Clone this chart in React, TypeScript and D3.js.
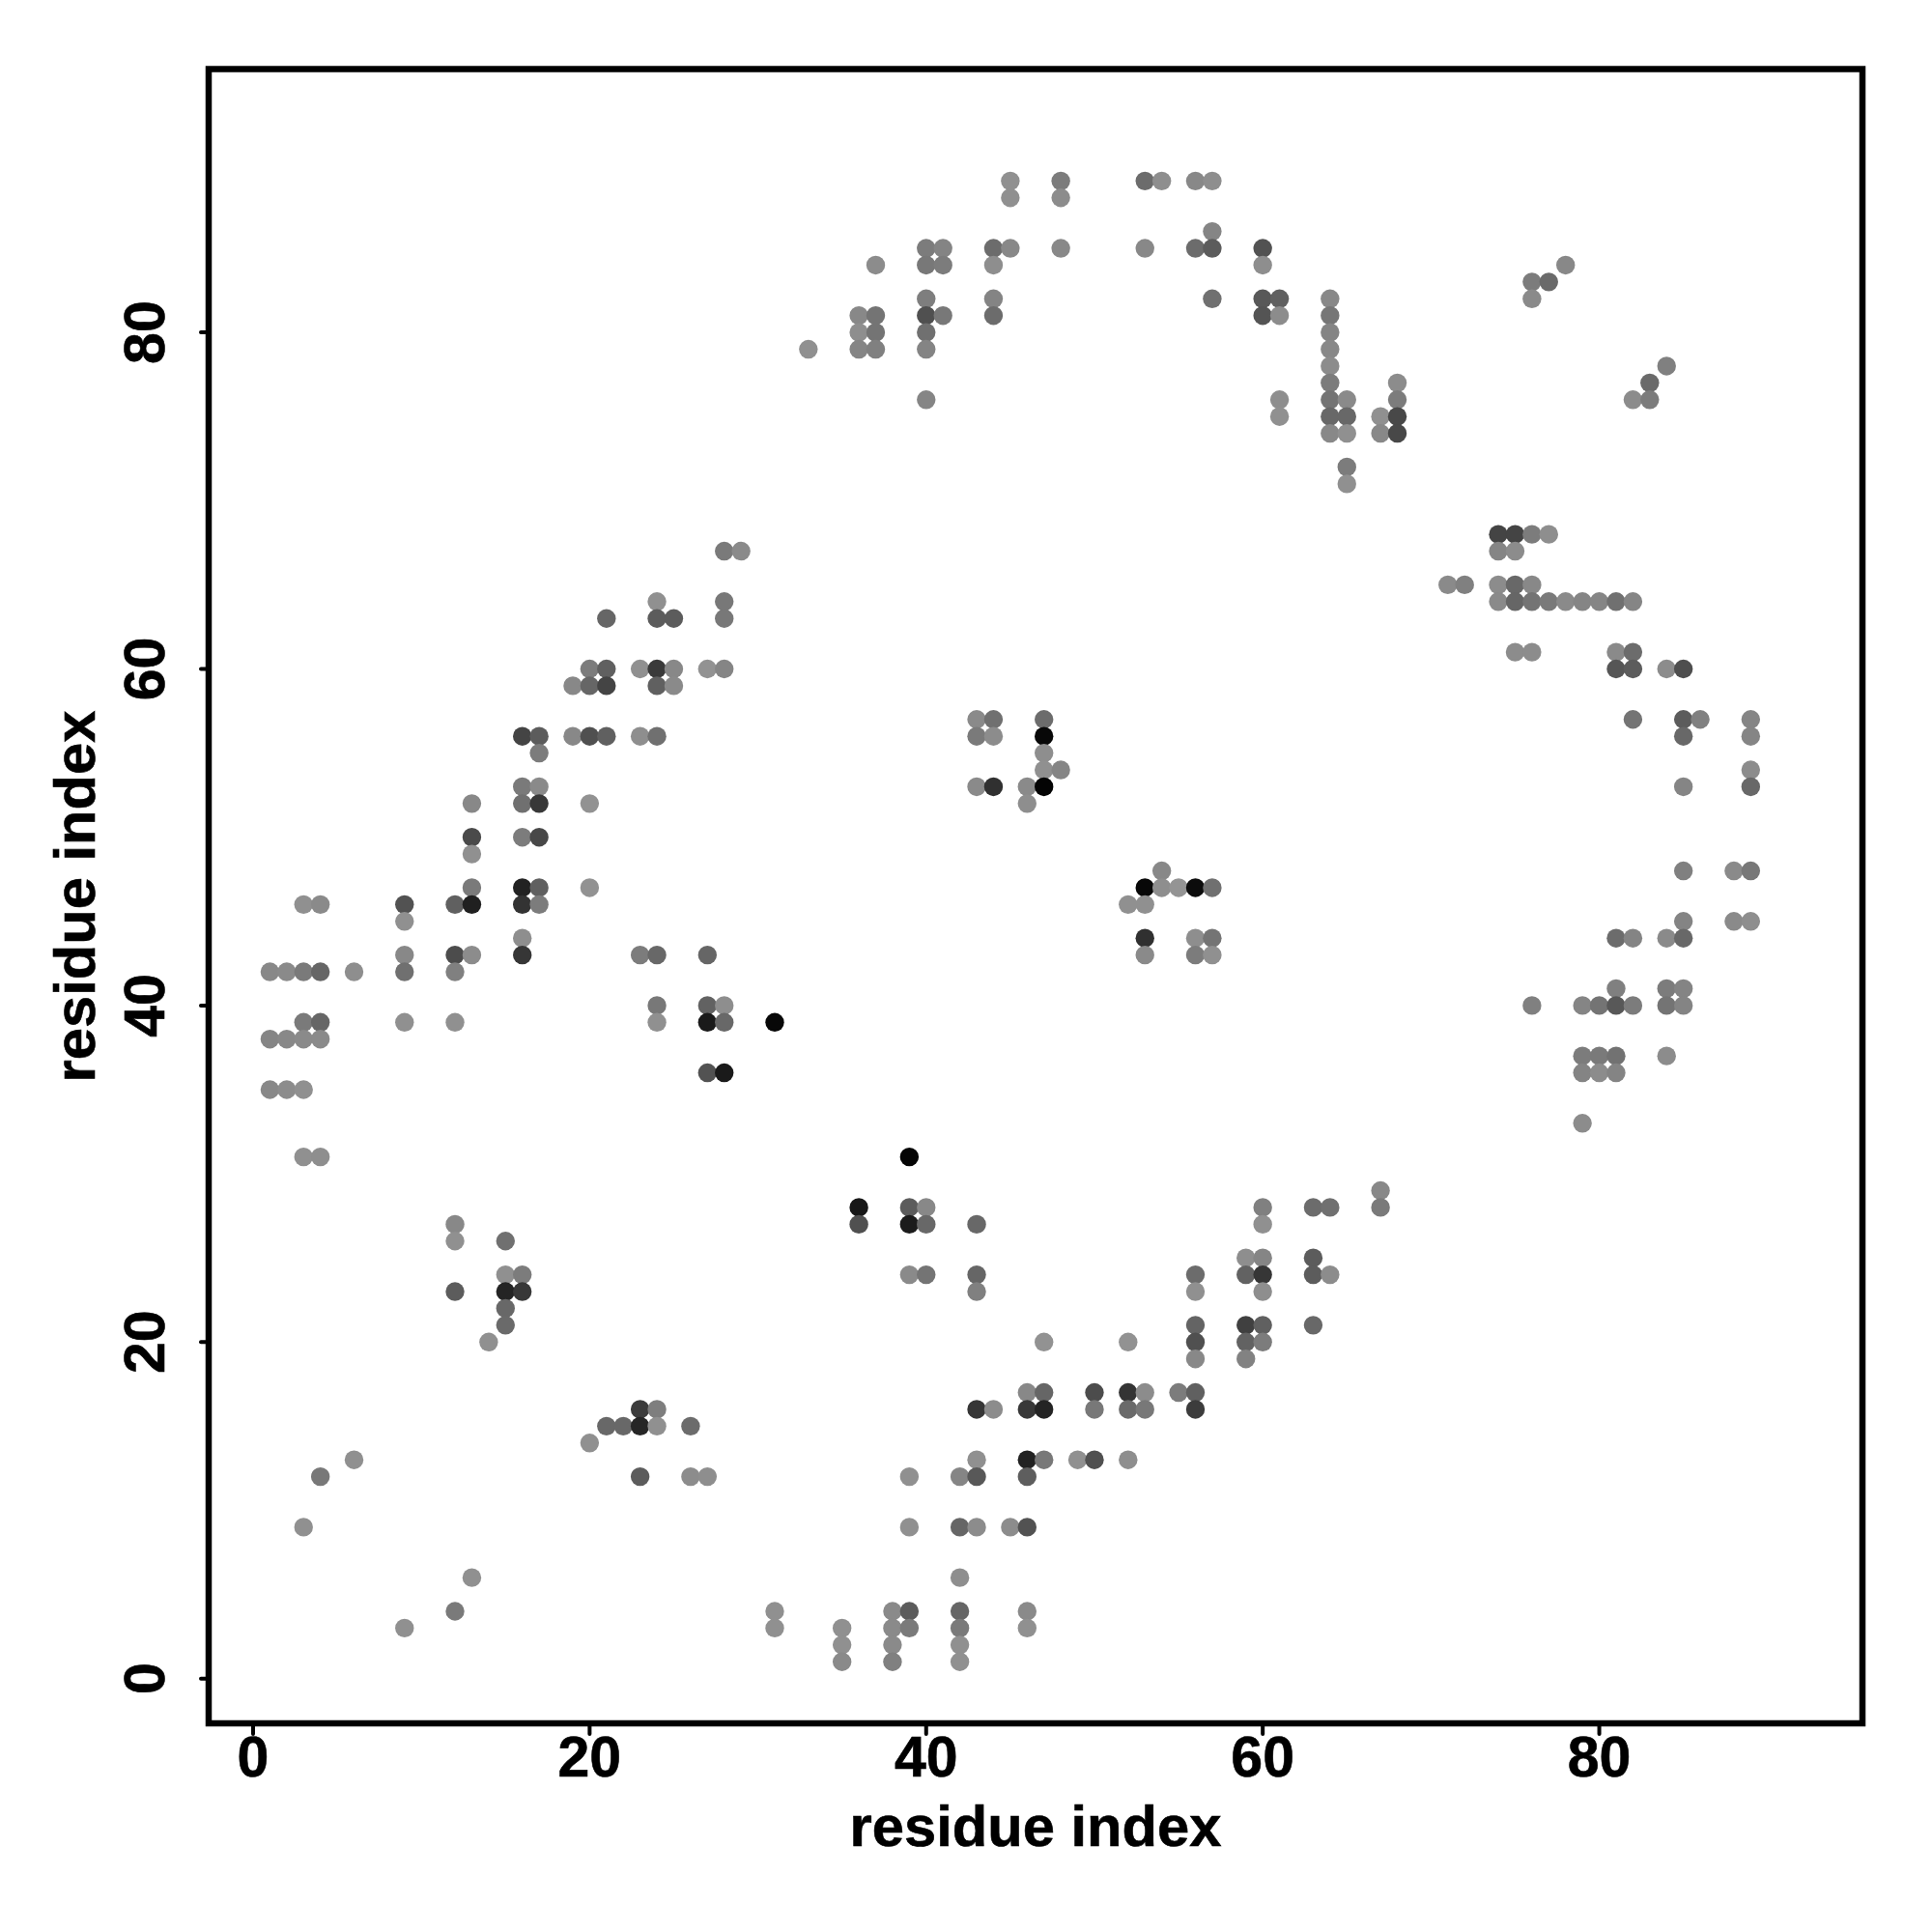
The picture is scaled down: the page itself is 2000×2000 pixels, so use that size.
import React from "react";
import * as d3 from "d3";

type Contact = [number, number, number]; // residue x, residue y, grey level

const tickValues = [0, 20, 40, 60, 80];
const xTitle = "residue index";
const yTitle = "residue index";

const contactsLeft: Contact[] = [
  [28,67,0x7a],[29,67,0x8a],
  [24,64,0x90],[28,64,0x78],
  [21,63,0x66],[24,63,0x5c],[25,63,0x5c],[28,63,0x78],
  [20,60,0x7c],[21,60,0x60],[23,60,0x90],[24,60,0x3a],[25,60,0x88],[27,60,0x92],[28,60,0x85],
  [19,59,0x88],[20,59,0x66],[21,59,0x44],[24,59,0x60],[25,59,0x8a],
  [16,56,0x44],[17,56,0x5c],[19,56,0x88],[20,56,0x50],[21,56,0x60],[23,56,0x8e],[24,56,0x70],
  [17,55,0x7c],
  [16,53,0x7a],[17,53,0x8a],
  [13,52,0x88],[16,52,0x70],[17,52,0x38],[20,52,0x92],
  [13,50,0x4a],[16,50,0x7c],[17,50,0x48],
  [13,49,0x90],
  [13,47,0x7a],[16,47,0x22],[17,47,0x60],[20,47,0x92],
  [3,46,0x90],[4,46,0x8a],[9,46,0x52],[12,46,0x60],[13,46,0x20],[16,46,0x33],[17,46,0x7c],
  [9,45,0x90],
  [16,44,0x8e],
  [9,43,0x88],[12,43,0x4c],[13,43,0x8c],[16,43,0x36],[23,43,0x7c],[24,43,0x68],[27,43,0x66],
  [1,42,0x88],[2,42,0x8a],[3,42,0x7a],[4,42,0x66],[6,42,0x8e],[9,42,0x70],[12,42,0x80],
  [24,40,0x78],[27,40,0x62],[28,40,0x8e],
  [3,39,0x7a],[4,39,0x66],[9,39,0x90],[12,39,0x90],[24,39,0x90],[27,39,0x1a],[28,39,0x68],[31,39,0x08],
  [1,38,0x85],[2,38,0x88],[3,38,0x8a],[4,38,0x8a],
  [27,36,0x52],[28,36,0x1a],
  [1,35,0x88],[2,35,0x8c],[3,35,0x90],
];

const contactsBottomLeft: Contact[] = [
  [3,31,0x90],[4,31,0x8e],
  [12,27,0x88],
  [12,26,0x90],[15,26,0x70],
  [15,24,0x90],[16,24,0x7c],
  [12,23,0x5c],[15,23,0x24],[16,23,0x38],
  [15,22,0x68],
  [15,21,0x6a],
  [14,20,0x90],
  [23,16,0x3c],[24,16,0x7e],
  [21,15,0x68],[22,15,0x68],[23,15,0x26],[24,15,0x90],[26,15,0x6c],
  [20,14,0x90],
  [6,13,0x90],
  [4,12,0x78],[23,12,0x5c],[26,12,0x8c],[27,12,0x8e],
  [3,9,0x90],
  [13,6,0x90],
  [12,4,0x7a],[31,4,0x90],
  [9,3,0x90],[31,3,0x90],
];

const contactsBottom: Contact[] = [
  [39,31,0x05],
  [67,29,0x88],
  [36,28,0x18],[39,28,0x5c],[40,28,0x88],[60,28,0x80],[63,28,0x6c],[64,28,0x70],[67,28,0x7a],
  [36,27,0x50],[39,27,0x1c],[40,27,0x68],[43,27,0x68],[60,27,0x90],
  [59,25,0x8e],[60,25,0x85],[63,25,0x5c],
  [39,24,0x8a],[40,24,0x74],[43,24,0x66],[56,24,0x6c],[59,24,0x62],[60,24,0x36],[63,24,0x5c],[64,24,0x8c],
  [43,23,0x80],[56,23,0x90],[60,23,0x8e],
  [56,21,0x64],[59,21,0x40],[60,21,0x60],[63,21,0x68],
  [47,20,0x92],[52,20,0x92],[56,20,0x50],[59,20,0x62],[60,20,0x7c],
  [56,19,0x88],[59,19,0x82],
  [46,17,0x88],[47,17,0x66],[50,17,0x4c],[52,17,0x34],[53,17,0x8c],[55,17,0x7c],[56,17,0x60],
  [43,16,0x36],[44,16,0x8c],[46,16,0x38],[47,16,0x24],[50,16,0x78],[52,16,0x6a],[53,16,0x78],[56,16,0x3c],
  [43,13,0x90],[46,13,0x22],[47,13,0x78],[49,13,0x90],[50,13,0x50],[52,13,0x8e],
  [39,12,0x90],[42,12,0x85],[43,12,0x58],[46,12,0x5e],
  [39,9,0x90],[42,9,0x66],[43,9,0x8c],[45,9,0x8c],[46,9,0x52],
  [42,6,0x8e],
  [38,4,0x8a],[39,4,0x5c],[42,4,0x66],[46,4,0x8a],
  [35,3,0x90],[38,3,0x8a],[39,3,0x7a],[42,3,0x7a],[46,3,0x90],
  [35,2,0x90],[38,2,0x8a],[42,2,0x90],
  [35,1,0x8a],[38,1,0x80],[42,1,0x90],
];

const contactsTop: Contact[] = [
  [45,89,0x90],[48,89,0x7c],[53,89,0x6c],[54,89,0x8e],[56,89,0x88],[57,89,0x8e],
  [45,88,0x90],[48,88,0x8c],
  [57,86,0x85],
  [40,85,0x7c],[41,85,0x84],[44,85,0x6c],[45,85,0x88],[48,85,0x88],[53,85,0x88],[56,85,0x6c],[57,85,0x5c],[60,85,0x52],
  [37,84,0x8c],[40,84,0x78],[41,84,0x7c],[44,84,0x8e],[60,84,0x8e],
  [40,82,0x7e],[44,82,0x84],[57,82,0x70],[60,82,0x58],[61,82,0x60],[64,82,0x88],
  [36,81,0x88],[37,81,0x74],[40,81,0x50],[41,81,0x78],[44,81,0x6c],[60,81,0x54],[61,81,0x8c],[64,81,0x76],
  [36,80,0x8e],[37,80,0x74],[40,80,0x70],[64,80,0x84],
  [33,79,0x90],[36,79,0x85],[37,79,0x80],[40,79,0x84],[64,79,0x88],
  [64,78,0x8c],
  [64,77,0x7c],[68,77,0x8c],
  [40,76,0x85],[61,76,0x8e],[64,76,0x74],[65,76,0x8a],[68,76,0x7c],
  [61,75,0x90],[64,75,0x68],[65,75,0x68],[67,75,0x90],[68,75,0x48],
  [64,74,0x88],[65,74,0x90],[67,74,0x88],[68,74,0x48],
  [65,72,0x7c],
  [65,71,0x90],
];

const contactsCentre: Contact[] = [
  [43,57,0x8a],[44,57,0x70],[47,57,0x6c],
  [43,56,0x7a],[44,56,0x8c],[47,56,0x08],
  [47,55,0x8e],
  [47,54,0x90],[48,54,0x85],
  [43,53,0x8a],[44,53,0x30],[46,53,0x8a],[47,53,0x04],
  [46,52,0x8e],
  [54,48,0x88],
  [53,47,0x08],[54,47,0x8e],[55,47,0x94],[56,47,0x0c],[57,47,0x70],
  [52,46,0x90],[53,46,0x90],
  [53,44,0x30],[56,44,0x8e],[57,44,0x74],
  [53,43,0x8a],[56,43,0x7c],[57,43,0x90],
];

const contactsRight: Contact[] = [
  [78,84,0x88],
  [76,83,0x7c],[77,83,0x6a],
  [76,82,0x8a],
  [84,78,0x80],
  [83,77,0x6a],
  [82,76,0x8c],[83,76,0x7c],
  [74,68,0x44],[75,68,0x44],[76,68,0x7c],[77,68,0x8e],
  [74,67,0x85],[75,67,0x8c],
  [71,65,0x8a],[72,65,0x80],[74,65,0x8c],[75,65,0x68],[76,65,0x88],
  [74,64,0x8a],[75,64,0x66],[76,64,0x74],[77,64,0x7a],[78,64,0x8a],[79,64,0x85],[80,64,0x85],[81,64,0x70],[82,64,0x85],
  [75,61,0x8c],[76,61,0x8c],[81,61,0x8a],[82,61,0x6c],
  [81,60,0x56],[82,60,0x5c],[84,60,0x8c],[85,60,0x4e],
  [82,57,0x74],[85,57,0x5c],[86,57,0x80],[89,57,0x85],
  [85,56,0x68],[89,56,0x85],
  [89,54,0x8c],
  [85,53,0x85],[89,53,0x68],
  [85,48,0x80],[88,48,0x8a],[89,48,0x78],
  [85,45,0x84],[88,45,0x8a],[89,45,0x8e],
  [81,44,0x6c],[82,44,0x84],[84,44,0x8a],[85,44,0x68],
  [81,41,0x80],[84,41,0x7c],[85,41,0x84],
  [76,40,0x80],[79,40,0x85],[80,40,0x74],[81,40,0x58],[82,40,0x7c],[84,40,0x74],[85,40,0x84],
  [79,37,0x7c],[80,37,0x7a],[81,37,0x72],[84,37,0x8c],
  [79,36,0x84],[80,36,0x8c],[81,36,0x84],
  [79,33,0x8c],
];

const contacts: Contact[] = [
  ...contactsLeft,
  ...contactsBottomLeft,
  ...contactsBottom,
  ...contactsTop,
  ...contactsCentre,
  ...contactsRight,
];

const LEFT = 216;
const RIGHT = 1928;
const TOP = 71.5;
const BOTTOM = 1784;

const x = d3.scaleLinear().domain([-2.64, 95.64]).range([LEFT, RIGHT]);
const y = d3.scaleLinear().domain([-2.66, 95.65]).range([BOTTOM, TOP]);

const FONT = "'Liberation Sans', Arial, sans-serif";

export default function App() {
  return (
    <svg
      width={2000}
      height={2000}
      viewBox="0 0 2000 2000"
      style={{ position: "absolute", left: 0, top: 0, background: "#fff" }}
    >
      <g>
        {contacts.map(([cx, cy, g], i) => (
          <circle key={i} cx={x(cx)} cy={y(cy)} r={9.7} fill={d3.rgb(g, g, g).formatHex()} />
        ))}
      </g>
      <rect x={LEFT} y={TOP} width={RIGHT - LEFT} height={BOTTOM - TOP} fill="none" stroke="#000" strokeWidth={6.5} />
      {tickValues.map((t) => (
        <g key={"x" + t}>
          <line x1={x(t)} x2={x(t)} y1={BOTTOM} y2={BOTTOM + 11} stroke="#000" strokeWidth={4} strokeLinecap="round" />
          <text x={x(t)} y={1839} textAnchor="middle" fontFamily={FONT} fontWeight="bold" fontSize={59} fill="#000" stroke="#000" strokeWidth={0.6}>
            {t}
          </text>
        </g>
      ))}
      {tickValues.map((t) => (
        <g key={"y" + t}>
          <line x1={LEFT} x2={LEFT - 8} y1={y(t)} y2={y(t)} stroke="#000" strokeWidth={4} strokeLinecap="round" />
          <text
            transform={`translate(170,${y(t)}) rotate(-90)`}
            textAnchor="middle"
            fontFamily={FONT}
            fontWeight="bold"
            fontSize={59}
            fill="#000"
            stroke="#000"
            strokeWidth={0.6}
          >
            {t}
          </text>
        </g>
      ))}
      <text x={1072} y={1911} textAnchor="middle" fontFamily={FONT} fontWeight="bold" fontSize={59.7} fill="#000" stroke="#000" strokeWidth={0.6}>
        {xTitle}
      </text>
      <text
        transform="translate(98,928) rotate(-90)"
        textAnchor="middle"
        fontFamily={FONT}
        fontWeight="bold"
        fontSize={59.7}
        fill="#000"
        stroke="#000"
        strokeWidth={0.6}
      >
        {yTitle}
      </text>
    </svg>
  );
}
